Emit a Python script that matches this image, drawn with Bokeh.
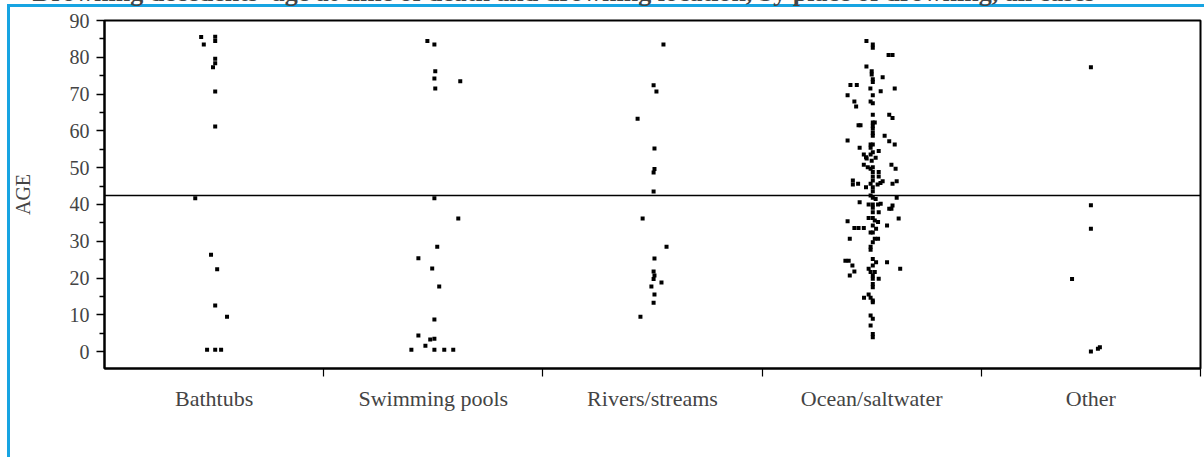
from bokeh.plotting import figure
from bokeh.models import FixedTicker, Span, Range1d
from bokeh.embed import file_html
from bokeh.resources import INLINE

# Places of drowning along the horizontal axis
categories = ["Bathtubs", "Swimming pools", "Rivers/streams", "Ocean/saltwater", "Other"]

# Age at death for each victim, with the horizontal jitter used to spread the dots
bathtubs_age = [85.5, 83.5, 85.6, 84.4, 79.6, 78.4, 77.3, 70.7, 61.2, 41.7,
                26.3, 22.4, 12.5, 9.5, 0.5, 0.5, 0.5]
bathtubs_jitter = [-0.059, -0.047, 0.005, 0.005, 0.005, 0.005, -0.005, 0.005, 0.005, -0.086,
                   -0.014, 0.014, 0.005, 0.059, -0.032, 0.005, 0.032]

pools_age = [84.4, 83.5, 76.2, 74.2, 73.5, 71.5, 41.7, 36.2, 28.5, 25.4, 22.6,
             17.7, 8.7, 4.4, 3.3, 3.5, 1.6, 0.5, 0.5, 0.5, 0.5]
pools_jitter = [-0.027, 0.005, 0.009, 0.005, 0.123, 0.009, 0.005, 0.114, 0.018, -0.068, -0.005,
                0.027, 0.005, -0.068, -0.014, 0.005, -0.036, -0.1, 0.005, 0.05, 0.091]

rivers_age = [83.5, 72.4, 70.7, 63.3, 55.2, 49.6, 48.7, 43.5, 36.2, 28.5, 25.3,
              21.8, 20.7, 19.7, 18.8, 17.7, 15.5, 13.3, 9.5]
rivers_jitter = [0.05, 0.005, 0.018, -0.068, 0.009, 0.009, 0.005, 0.005, -0.045, 0.064, 0.009,
                 0.005, 0.009, 0.005, 0.041, -0.005, 0.009, 0.005, -0.055]

ocean_age = [84.4, 83.5, 82.6, 80.6, 80.6, 77.5, 76.2, 75.3, 74.6, 74.0, 73.3, 72.5, 72.5,
             71.5, 71.5, 70.8, 69.7, 69.7, 68.0, 66.6, 68.0, 67.5, 64.4, 64.4, 63.5, 62.3,
             62.3, 61.4, 60.6, 61.5, 61.5, 59.4, 58.7, 58.7, 57.4, 57.2, 56.3, 56.3, 56.3,
             55.4, 55.4, 54.5, 53.6, 52.8, 53.6, 54.2, 52.7, 52.5, 51.9, 50.8, 50.1, 49.7,
             50.1, 50.8, 49.7, 48.8, 47.6, 48.8, 47.6, 46.5, 45.4, 45.6, 44.7, 45.6, 46.5,
             44.7, 45.4, 45.8, 46.3, 45.6, 46.3, 43.6, 42.4, 41.8, 41.5, 41.8, 40.6, 40.0,
             40.0, 40.0, 39.1, 40.2, 39.7, 38.8, 38.8, 37.9, 37.9, 35.4, 36.3, 36.3, 35.6,
             35.2, 36.2, 34.3, 33.6, 33.6, 33.6, 34.3, 33.4, 32.4, 32.4, 30.7, 30.7, 30.7,
             29.7, 28.5, 27.7, 24.7, 24.7, 23.4, 25.2, 24.3, 23.4, 24.3, 22.5, 22.5, 21.6,
             21.6, 21.8, 20.7, 20.7, 19.8, 19.8, 18.4, 17.5, 14.6, 15.5, 14.6, 13.9, 13.4,
             9.8, 8.9, 7.1, 4.8, 3.9]
ocean_jitter = [-0.024, 0.005, 0.005, 0.077, 0.095, -0.024, 0.0, 0.0, 0.05, 0.005, 0.005, -0.097, -0.068,
                -0.006, 0.105, 0.041, 0.005, -0.11, -0.079, -0.071, -0.005, 0.005, 0.005, 0.08, 0.095, 0.005,
                0.014, 0.005, 0.005, -0.06, -0.051, 0.005, 0.005, 0.059, -0.11, 0.08, 0.105, -0.005, 0.005,
                -0.055, -0.005, 0.032, -0.036, -0.026, -0.005, 0.005, 0.018, -0.023, 0.0, -0.036, -0.018, -0.005,
                0.005, 0.09, 0.109, 0.032, 0.032, 0.005, 0.005, -0.086, -0.086, -0.062, -0.026, -0.005, 0.005,
                0.005, 0.027, 0.04, 0.05, 0.095, 0.114, 0.005, -0.005, 0.005, 0.018, 0.114, -0.055, -0.014,
                0.005, 0.029, 0.005, 0.041, 0.095, 0.09, 0.08, 0.032, 0.005, -0.11, -0.014, 0.005, 0.014,
                0.029, 0.123, 0.07, -0.079, -0.06, -0.036, 0.005, 0.02, 0.005, -0.005, -0.1, 0.014, 0.029,
                0.005, -0.005, -0.005, -0.12, -0.105, -0.088, 0.005, 0.02, 0.005, 0.07, 0.13, -0.014, -0.005,
                0.014, -0.079, -0.1, 0.005, 0.005, 0.032, 0.005, 0.005, -0.035, -0.014, -0.005, 0.005, 0.005,
                -0.005, 0.005, -0.005, 0.005, 0.005]

other_age = [77.3, 39.8, 33.4, 19.7, 0.0, 0.8, 1.2]
other_jitter = [0.0, 0.0, 0.0, -0.086, 0.0, 0.032, 0.041]

mean_age = 42.4

y_ticks = [0, 10, 20, 30, 40, 50, 60, 70, 80, 90]
y_minor_ticks = [5, 15, 25, 35, 45, 55, 65, 75, 85]

title_text = ("Drowning decedents' age at time of death and drowning location, "
              "by place of drowning, all cases")

groups = [(bathtubs_age, bathtubs_jitter), (pools_age, pools_jitter), (rivers_age, rivers_jitter),
          (ocean_age, ocean_jitter), (other_age, other_jitter)]

FRAME_BLUE = "#17a4e2"
HIDDEN_TOP = 44  # the title band sits mostly above the top of the page

p = figure(width=1204, height=457 + HIDDEN_TOP, output_backend="svg", toolbar_location=None,
           x_range=Range1d(0, len(categories)), y_range=Range1d(-4.6, 90),
           min_border_left=104, min_border_right=4, min_border_top=20 + HIDDEN_TOP,
           min_border_bottom=89)
p.background_fill_color = "white"
# transparent border area so the page frame drawn behind the canvas shows through
p.border_fill_alpha = 0
p.styles = {
    "margin-top": f"-{HIDDEN_TOP}px",
    "background": (f"linear-gradient({FRAME_BLUE},{FRAME_BLUE}) 7px {HIDDEN_TOP + 4}px / 100% 3px no-repeat, "
                   f"linear-gradient({FRAME_BLUE},{FRAME_BLUE}) 7px {HIDDEN_TOP + 4}px / 3px 100% no-repeat, white"),
}
p.outline_line_color = "black"
p.outline_line_width = 2
p.xgrid.visible = False
p.ygrid.visible = False

p.title.text = title_text
p.title.text_font = "Liberation Serif"
p.title.text_font_style = "bold"
p.title.text_font_size = "26px"
p.title.align = "left"
p.title.offset = -72
p.title.standoff = 28

for i, (ages, jit) in enumerate(groups):
    xs = [i + 0.5 + j for j in jit]
    p.scatter(xs, ages, marker="square", size=4, fill_color="black", line_color=None)

p.add_layout(Span(location=mean_age, dimension="width", line_color="black", line_width=1.5))

centers = [i + 0.5 for i in range(len(categories))]
xax = p.xaxis[0]
xax.ticker = FixedTicker(ticks=centers, minor_ticks=[i + 1 for i in range(len(categories))])
xax.major_label_overrides = {c: name for c, name in zip(centers, categories)}
xax.major_tick_out = 0
xax.major_tick_in = 0
xax.minor_tick_out = 8
xax.minor_tick_in = 0
xax.minor_tick_line_width = 1.2
xax.axis_line_width = 2
xax.major_label_text_font = "Liberation Serif"
xax.major_label_text_font_size = "22px"
xax.major_label_standoff = 9

yax = p.yaxis[0]
yax.ticker = FixedTicker(ticks=y_ticks, minor_ticks=y_minor_ticks)
yax.major_tick_out = 8
yax.major_tick_in = 0
yax.minor_tick_out = 5
yax.minor_tick_in = 0
yax.major_tick_line_width = 1.5
yax.minor_tick_line_width = 1.5
yax.axis_line_width = 2
yax.major_label_text_font = "Liberation Serif"
yax.major_label_text_font_size = "20px"
yax.major_label_standoff = 7
yax.axis_label = "AGE"
yax.axis_label_text_font = "Liberation Serif"
yax.axis_label_text_font_size = "20px"
yax.axis_label_text_font_style = "normal"
yax.axis_label_standoff = 33

open("out.html", "w").write(file_html(p, INLINE))
